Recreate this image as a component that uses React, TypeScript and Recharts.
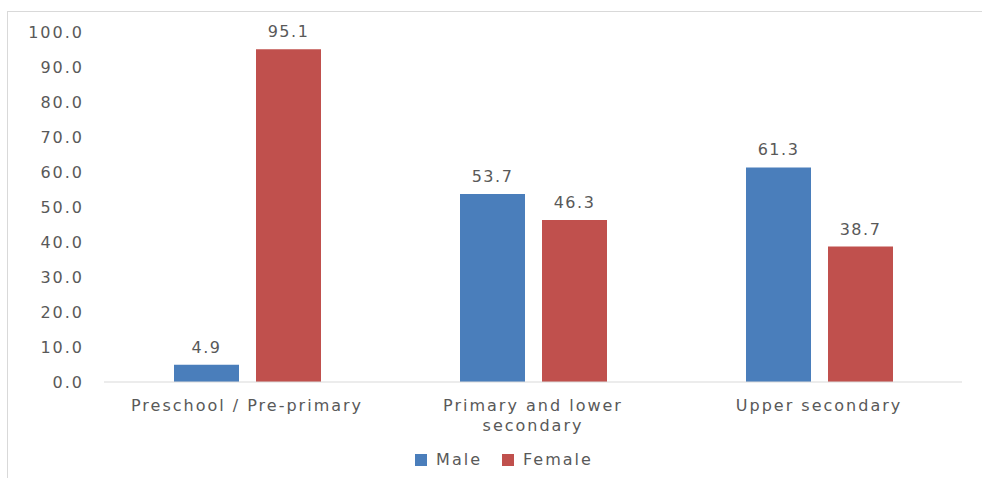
import { BarChart, Bar, XAxis, YAxis, LabelList } from 'recharts'

const categories = ['Preschool / Pre-primary', 'Primary and lower secondary', 'Upper secondary']
const maleValues = [4.9, 53.7, 61.3]
const femaleValues = [95.1, 46.3, 38.7]
const yTicks = [0, 10, 20, 30, 40, 50, 60, 70, 80, 90, 100]

const MALE_COLOR = '#4A7EBB'
const FEMALE_COLOR = '#C0504D'
const TEXT_COLOR = '#595959'
const FONT = '"DejaVu Sans", sans-serif'

const data = categories.map((name, i) => ({
  name,
  male: maleValues[i],
  female: femaleValues[i],
}))

function wrapLabel(label: string, maxChars: number): string[] {
  const words = label.split(' ')
  const lines: string[] = []
  let current = ''
  for (const w of words) {
    const next = current ? `${current} ${w}` : w
    if (next.length > maxChars && current) {
      lines.push(current)
      current = w
    } else {
      current = next
    }
  }
  if (current) lines.push(current)
  return lines
}

function CategoryTick({ x, y, payload }: { x?: number; y?: number; payload?: { value: string } }) {
  const lines = wrapLabel(payload?.value ?? '', 23)
  return (
    <g transform={`translate(${x},${y})`}>
      {lines.map((line, i) => (
        <text
          key={i}
          x={0}
          y={21 + i * 20}
          textAnchor="middle"
          fill={TEXT_COLOR}
          fontSize={16}
          fontFamily={FONT}
          letterSpacing={2}
        >
          {line}
        </text>
      ))}
    </g>
  )
}

function ChartLegend() {
  const items = [
    { label: 'Male', color: MALE_COLOR },
    { label: 'Female', color: FEMALE_COLOR },
  ]
  return (
    <div
      style={{
        position: 'absolute',
        top: 450,
        left: 0,
        width: 1008,
        display: 'flex',
        justifyContent: 'center',
        gap: 20,
        fontFamily: FONT,
      }}
    >
      {items.map((it) => (
        <div key={it.label} style={{ display: 'flex', alignItems: 'center' }}>
          <span style={{ display: 'inline-block', width: 12, height: 12, background: it.color, marginRight: 9 }} />
          <span style={{ fontSize: 16, color: TEXT_COLOR, letterSpacing: 2 }}>{it.label}</span>
        </div>
      ))}
    </div>
  )
}

export default function App() {
  return (
    <div style={{ position: 'relative', width: 982, height: 478, overflow: 'hidden', background: '#fff' }}>
      <style>{'body{margin:0;overflow:hidden}'}</style>
      <div
        style={{
          position: 'absolute',
          left: 7,
          top: 11,
          width: 1000,
          height: 500,
          border: '1px solid #D9D9D9',
        }}
      />
      <div style={{ position: 'absolute', left: 0, top: 0 }}>
        <BarChart
          width={982}
          height={478}
          data={data}
          margin={{ top: 32, right: 20, bottom: 36, left: 0 }}
          barSize={65}
          barGap={17}
        >
          <XAxis
            dataKey="name"
            tick={<CategoryTick />}
            tickLine={false}
            axisLine={{ stroke: '#D9D9D9' }}
            interval={0}
            height={60}
          />
          <YAxis
            width={104}
            domain={[0, 100]}
            ticks={yTicks}
            tickFormatter={(v: number) => v.toFixed(1)}
            tick={{ fontSize: 16, fill: TEXT_COLOR, fontFamily: FONT, letterSpacing: 2 }}
            tickLine={false}
            axisLine={false}
            tickMargin={14}
          />
          <Bar dataKey="male" name="Male" fill={MALE_COLOR} isAnimationActive={false}>
            <LabelList
              dataKey="male"
              position="top"
              offset={12}
              formatter={(v: number) => v.toFixed(1)}
              style={{ fontSize: 16, fill: TEXT_COLOR, fontFamily: FONT, letterSpacing: 1.5 }}
            />
          </Bar>
          <Bar dataKey="female" name="Female" fill={FEMALE_COLOR} isAnimationActive={false}>
            <LabelList
              dataKey="female"
              position="top"
              offset={12}
              formatter={(v: number) => v.toFixed(1)}
              style={{ fontSize: 16, fill: TEXT_COLOR, fontFamily: FONT, letterSpacing: 1.5 }}
            />
          </Bar>
        </BarChart>
      </div>
      <ChartLegend />
    </div>
  )
}
